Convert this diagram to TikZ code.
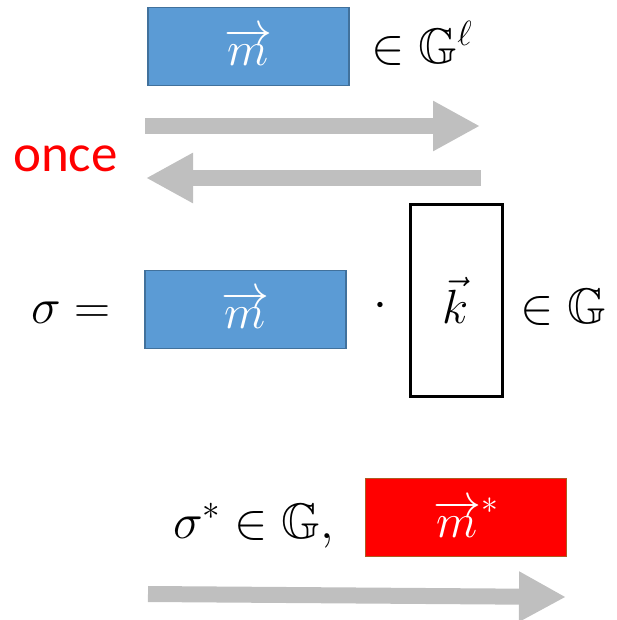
\RequirePackage{fix-cm}
\documentclass[tikz,border=0pt]{standalone}
\usepackage{amssymb}
\usepackage{fontspec}
\newfontfamily\labelfont{Carlito}
\usetikzlibrary{arrows.meta}
\definecolor{boxblue}{HTML}{5B9BD5}
\definecolor{boxblueline}{HTML}{41719C}
\definecolor{boxred}{HTML}{FF0000}
\definecolor{boxredline}{HTML}{AE5A21}
\definecolor{arrowgray}{HTML}{BFBFBF}
\begin{document}
\begin{tikzpicture}[
    x=1pt, y=-1pt,
    bigarrow/.style={arrowgray, line width=16pt, -{Triangle[length=47pt,width=47pt]}},
    vecbox/.style={draw=boxblueline, fill=boxblue, line width=1.5pt, minimum width=201pt,
                   minimum height=78pt, inner sep=0pt, text=white, font=\fontsize{48}{56}\selectfont},
    sigbox/.style={vecbox, draw=boxredline, fill=boxred},
    keybox/.style={draw, line width=3pt, minimum width=92pt, minimum height=191pt,
                   inner sep=0pt, font=\fontsize{48}{56}\selectfont},
    mathlbl/.style={inner sep=0pt, anchor=base west, font=\fontsize{50}{60}\selectfont}
]
  \useasboundingbox (0,0) rectangle (617,620);

  %--- query ---
  \node[vecbox] (M1) at (248.5,46.5) {$\overrightarrow{m}$};
  \node[mathlbl] (G1) at (371,64) {$\in\mathbb{G}^{\ell}$};

  %--- one round of interaction ---
  \coordinate (A1s) at (145,126);
  \coordinate (A1e) at (480,126);
  \coordinate (A2s) at (481,178);
  \coordinate (A2e) at (146,178);
  \draw[bigarrow] (A1s) -- (A1e);
  \draw[bigarrow] (A2s) -- (A2e);
  \node[inner sep=0pt, anchor=base west, text=red, font=\labelfont\fontsize{53}{62}\selectfont]
    (once) at (13,172) {once};

  %--- signature ---
  \node[mathlbl] (sig) at (31,323) {$\sigma =$};
  \node[vecbox] (M2) at (245.5,309.5) {$\overrightarrow{m}$};
  \node[mathlbl, anchor=base] (dot) at (380,317) {$\cdot$};
  \node[keybox] (K) at (456,300.5) {$\vec{k}$};
  \node[mathlbl] (G2) at (520,323) {$\in\mathbb{G}$};

  %--- forgery ---
  \node[mathlbl] (sigstar) at (173,538) {$\sigma^{*}\in\mathbb{G},$};
  \node[sigbox] (M3) at (466,517.5) {$\overrightarrow{m}^{*}$};
  \coordinate (A3s) at (148,594);
  \coordinate (A3e) at (566,597);
  \draw[bigarrow] (A3s) -- (A3e);
\end{tikzpicture}
\end{document}
